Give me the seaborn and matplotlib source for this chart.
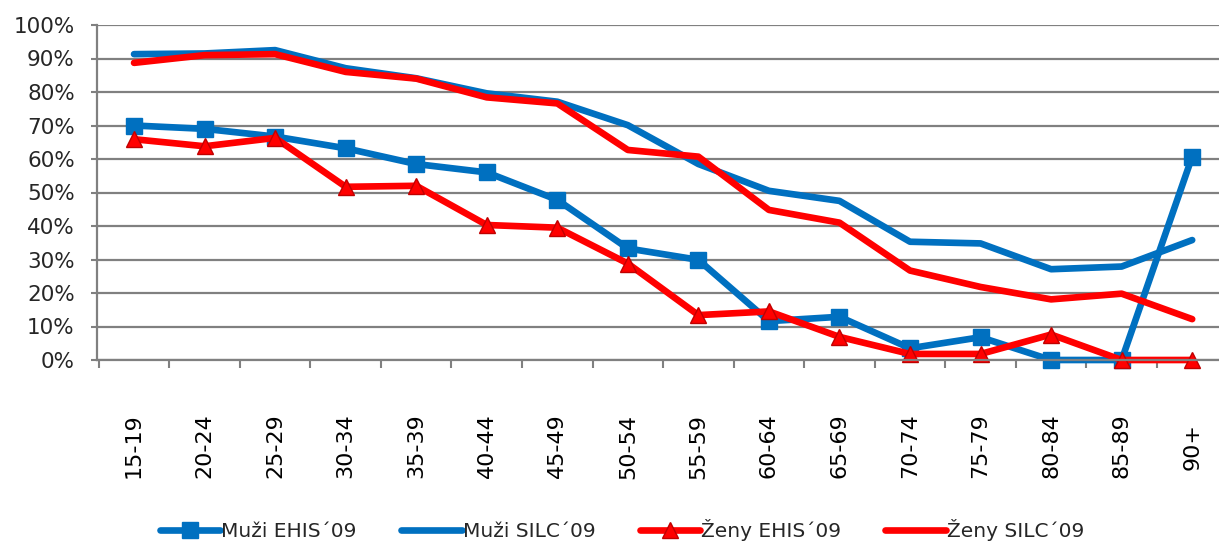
import matplotlib
matplotlib.use("Agg")
import matplotlib.pyplot as plt
import seaborn as sns
import pandas as pd
import numpy as np
from matplotlib.ticker import FixedLocator, PercentFormatter

categories = ["15-19", "20-24", "25-29", "30-34", "35-39", "40-44", "45-49", "50-54",
              "55-59", "60-64", "65-69", "70-74", "75-79", "80-84", "85-89", "90+"]
muzi_ehis = [70, 69, 66.7, 63.2, 58.5, 56, 47.8, 33.3, 29.9, 11.6, 12.9, 3.5, 6.8, 0, 0, 60.7]
muzi_silc = [91.3, 91.5, 92.5, 87.1, 84.1, 79.6, 77.1, 70.1, 58.5, 50.5, 47.5, 35.3, 34.8, 27.1, 27.9, 35.8]
zeny_ehis = [65.9, 63.8, 66.3, 51.7, 52, 40.3, 39.5, 28.8, 13.4, 14.5, 6.9, 1.8, 1.8, 7.6, 0, 0]
zeny_silc = [88.7, 91, 91.3, 86, 84, 78.4, 76.6, 62.7, 60.7, 44.8, 41, 26.7, 21.8, 18.1, 19.8, 12.2]
series_names = ["Muži EHIS´09", "Muži SILC´09", "Ženy EHIS´09", "Ženy SILC´09"]

sns.set_theme(style="white")
plt.rcParams['font.family'] = ['DejaVu Sans']

fig = plt.figure(figsize=(12.19, 5.44), dpi=100)
ax = fig.add_axes([97/1219, 1-360/544, 1-97/1219, (360-25)/544])

blue = "#0070C0"
red = "#FF0000"
styles = [
    dict(color=blue, marker="s", markersize=11, markeredgecolor=blue, lw=4.8),
    dict(color=blue, marker=None, lw=4.8),
    dict(color=red, marker="^", markersize=12, markeredgecolor="#C00000", lw=4.8),
    dict(color=red, marker=None, lw=4.8),
]
data = [muzi_ehis, muzi_silc, zeny_ehis, zeny_silc]
x_idx = np.arange(len(categories))
for name, vals, st in zip(series_names, data, styles):
    df = pd.DataFrame({"x": x_idx, "y": vals})
    kw = dict(color=st["color"], linewidth=st["lw"], label=name, solid_capstyle="round",
              clip_on=False)
    if st["marker"]:
        kw.update(marker=st["marker"], markersize=st["markersize"],
                  markeredgecolor=st["markeredgecolor"], markeredgewidth=1)
    sns.lineplot(data=df, x="x", y="y", ax=ax, sort=False, **kw)

ax.set_xlim(-0.525, 15.38)
ax.set_ylim(0, 100)
ax.set_yticks(np.arange(0, 101, 10))
ax.yaxis.set_major_formatter(PercentFormatter(decimals=0))
ax.set_xticks(x_idx)
ax.set_xticklabels(categories, rotation=90, va="center", ha="center")
ax.xaxis.set_minor_locator(FixedLocator(np.arange(-0.5, 15.4, 1)))
ax.tick_params(axis="x", which="major", length=0, pad=62, labelsize=16, colors="black")
ax.tick_params(axis="x", which="minor", length=6, width=1.5, color="#808080", direction="out", bottom=True)
ax.tick_params(axis="y", which="major", length=4, width=1.5, color="#808080", direction="out",
               left=True, labelsize=15.5, pad=12)
ax.set_xlabel("")
ax.set_ylabel("")
ax.grid(axis="y", color="#808080", linewidth=1.6)
ax.set_axisbelow(True)
for s in ["top", "right"]:
    ax.spines[s].set_visible(False)
for s in ["left", "bottom"]:
    ax.spines[s].set_color("#808080")
    ax.spines[s].set_linewidth(1.6)

if ax.legend_:
    ax.legend_.remove()
handles, labels = ax.get_legend_handles_labels()
fig.legend(handles, labels, loc="center", bbox_to_anchor=(622/1219, 1-530/544), ncol=4,
           frameon=False, fontsize=14.5, handlelength=3.0, handletextpad=0.05, columnspacing=2.2,
           borderpad=0)

fig.savefig("out.png", dpi=100)
